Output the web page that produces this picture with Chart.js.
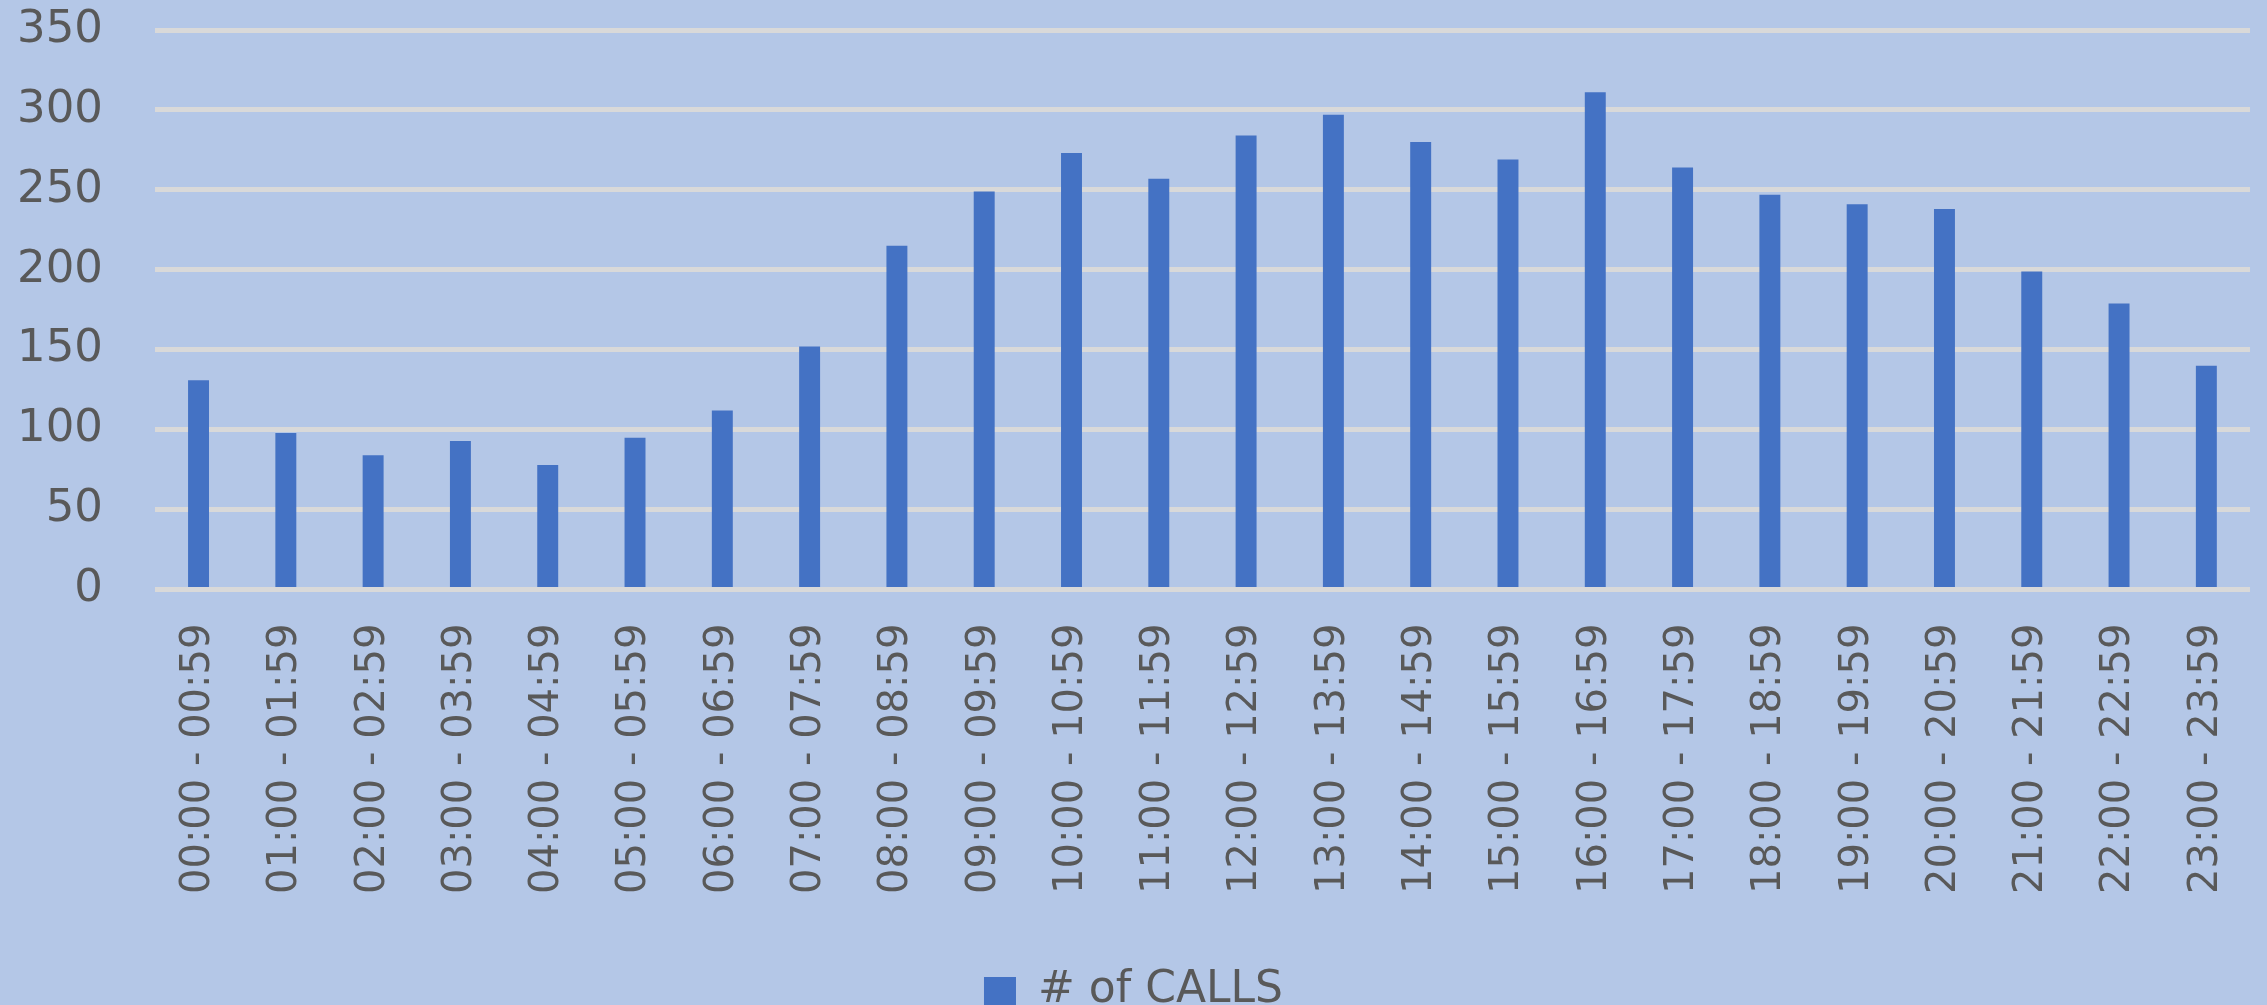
<!DOCTYPE html>
<html>
<head>
<meta charset="utf-8">
<script src="https://cdn.jsdelivr.net/npm/chart.js@4.4.1/dist/chart.umd.min.js"></script>
<style>
  html, body { margin: 0; padding: 0; background: #b4c7e7; }
  #wrap { width: 2267px; height: 1005px; position: relative; }
</style>
</head>
<body>
<div id="wrap"><canvas id="myChart"></canvas></div>
<script>
const horas = [
  '00:00 - 00:59', '01:00 - 01:59', '02:00 - 02:59', '03:00 - 03:59',
  '04:00 - 04:59', '05:00 - 05:59', '06:00 - 06:59', '07:00 - 07:59',
  '08:00 - 08:59', '09:00 - 09:59', '10:00 - 10:59', '11:00 - 11:59',
  '12:00 - 12:59', '13:00 - 13:59', '14:00 - 14:59', '15:00 - 15:59',
  '16:00 - 16:59', '17:00 - 17:59', '18:00 - 18:59', '19:00 - 19:59',
  '20:00 - 20:59', '21:00 - 21:59', '22:00 - 22:59', '23:00 - 23:59'
]
const llamadas = [131, 98, 84, 93, 78, 95, 112, 152, 215, 249, 273, 257,
  284, 297, 280, 269, 311, 264, 247, 241, 238, 199, 179, 140]
const yMax = 350
const yPaso = 50

const gris = '#595959'

const ctx = document.getElementById('myChart');
new Chart(ctx, {
  type: 'bar',
  data: {
    labels: horas,
    datasets: [{
      label: '# of CALLS',
      data: llamadas,
      backgroundColor: '#4472c4',
      borderWidth: 0,
      categoryPercentage: 1,
      barPercentage: 0.24
    }]
  },
  options: {
    responsive: true,
    maintainAspectRatio: false,
    animation: false,
    layout: {
      padding: { left: 17, right: 17, top: 2, bottom: -18 }
    },
    plugins: {
      tooltip: { enabled: false },
      legend: {
        position: 'bottom',
        labels: {
          color: gris,
          font: { family: 'DejaVu Sans', size: 44 },
          boxWidth: 32,
          boxHeight: 28,
          padding: 41
        }
      }
    },
    scales: {
      x: {
        grid: { display: false, drawTicks: false },
        border: { display: false },
        ticks: {
          color: gris,
          font: { family: 'DejaVu Sans', size: 40 },
          minRotation: 90,
          maxRotation: 90,
          padding: 34,
          autoSkip: false
        },
        // sin margen extra a los lados por las etiquetas giradas
        afterFit: (scale) => {
          scale.paddingLeft = 0
          scale.paddingRight = 0
        }
      },
      y: {
        min: 0,
        max: yMax,
        border: { display: false },
        grid: { color: '#d9d9d9', lineWidth: 5, drawTicks: false },
        ticks: {
          stepSize: yPaso,
          color: gris,
          font: { family: 'DejaVu Sans', size: 45 },
          padding: 52
        },
        // chart.js cuenta el padding dos veces en el ancho
        afterFit: (scale) => {
          scale.width = scale.width - 52
          scale.paddingTop = 30
          scale.paddingBottom = 0
        }
      }
    }
  }
});
</script>
</body>
</html>
